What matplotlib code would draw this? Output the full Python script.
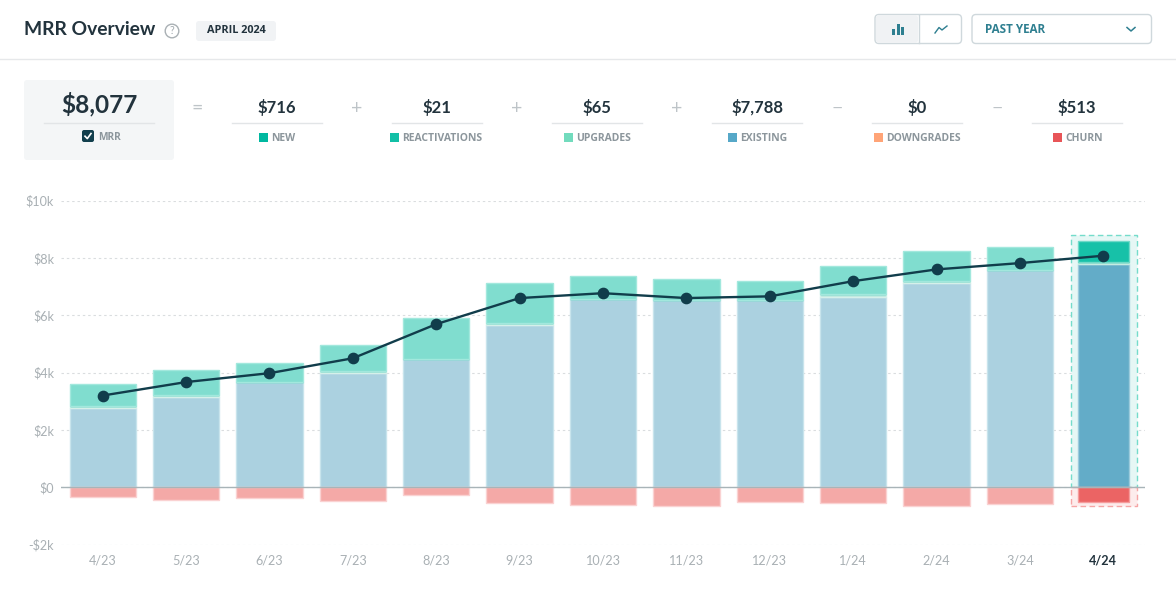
import matplotlib
matplotlib.use("Agg")
import matplotlib.pyplot as plt
from matplotlib.patches import Rectangle, FancyBboxPatch, Circle

months = ["4/23","5/23","6/23","7/23","8/23","9/23","10/23","11/23","12/23","1/24","2/24","3/24","4/24"]
existing = [2770,3150,3680,3990,4470,5660,6570,6530,6530,6630,7120,7570,7788]
upgrades = [60,70,0,70,0,70,0,0,0,110,70,0,65]
reactivations = [0,0,0,0,0,0,0,0,0,0,0,0,21]
new = [760,870,640,920,1430,1410,810,720,650,990,1060,820,716]
churn = [-350,-450,-370,-470,-270,-550,-620,-660,-520,-550,-650,-580,-513]
mrr = [3200,3670,3980,4500,5690,6600,6770,6600,6660,7190,7600,7820,8077]
yticks = [-2000,0,2000,4000,6000,8000,10000]
ylabels = ["-$2k","$0","$2k","$4k","$6k","$8k","$10k"]
summary_values = ["$716","$21","$65","$7,788","$0","$513"]
summary_labels = ["NEW","REACTIVATIONS","UPGRADES","EXISTING","DOWNGRADES","CHURN"]
summary_colors = ["#00B8A0","#12BFA6","#72DBBD","#56A8C8","#FFA477","#E85558"]
summary_ops = ["=","+","+","+","\u2212","\u2212"]

DARK = "#22333D"
GREY = "#8C969C"
plt.rcParams["font.family"] = ["Lato", "DejaVu Sans"]
fig = plt.figure(figsize=(11.76,5.99), dpi=100, facecolor="white")
W,H = 1176,599

# ---- chart
ax = fig.add_axes([61/W, 1-544.6/H, 1084/W, 344/H])
ax.set_xlim(-0.5,12.5); ax.set_ylim(-2000,10000)
for s in ax.spines.values(): s.set_visible(False)
ax.set_yticks(yticks); ax.set_yticklabels(ylabels, color="#A9B0B4", fontsize=9.1)
ax.set_xticks(range(len(months))); ax.set_xticklabels(months, color="#A9B0B4", fontsize=9.1)
ax.get_xticklabels()[-1].set_color(DARK); ax.get_xticklabels()[-1].set_fontweight("bold")
ax.tick_params(axis="y", length=0, pad=5)
ax.tick_params(axis="x", length=0, pad=7)
ax.yaxis.grid(True, color="#DADDDF", ls=(0,(2.2,2.6)), lw=0.8); ax.set_axisbelow(True)

n = len(months); last = n-1
wid = [0.795]*last + [0.61]
xs = list(range(n))
def colors(light, strong): return [light]*last + [strong]
ax.add_patch(Rectangle((last-0.39,0), 0.8, 8800, fc="#E6F7F5", ec="#74DCCB", ls=(0,(4,2.5)), lw=1, zorder=1.2))
ax.add_patch(Rectangle((last-0.39,-650), 0.8, 650, fc="#FDECEC", ec="#F6A5A5", ls=(0,(4,2.5)), lw=1, zorder=1.2))
b = [0]*n
kw = dict(width=wid, lw=1, zorder=2)
ax.bar(xs, existing, bottom=b, color=colors("#ABD1E0","#63ACC8"), edgecolor=colors("#C8E4EC","#9CCBDC"), **kw)
b = existing
ax.bar(xs, upgrades, bottom=b, color=colors("#BDE8E0","#B5E6DA"), edgecolor=colors("#D5F0EA","#C5ECE2"), **kw)
b = [p+q for p,q in zip(b,upgrades)]
ax.bar(xs, reactivations, bottom=b, color="#12BFA6", edgecolor="#12BFA6", **kw)
b = [p+q for p,q in zip(b,reactivations)]
ax.bar(xs, new, bottom=b, color=colors("#80DDCF","#17C1A8"), edgecolor=colors("#A2E8DD","#70D9C8"), **kw)
ax.bar(xs, churn, color=colors("#F4A9A7","#EB6464"), edgecolor=colors("#FAD2D2","#F59C9C"), **kw)
ax.axhline(0, color="#A8B4B8", lw=1, zorder=3)
ax.plot(xs, mrr, color="#113D4B", lw=1.7, marker="o", ms=7.4, zorder=4)

# ---- interface chrome, in pixel coordinates
ui = fig.add_axes([0,0,1,1], zorder=-1); ui.set_xlim(0,W); ui.set_ylim(H,0); ui.axis("off")
def rbox(x0,y0,x1,y1,fc,ec="none",r=3,lw=1):
    ui.add_patch(FancyBboxPatch((x0+r,y0+r),x1-x0-2*r,y1-y0-2*r,boxstyle=f"round,pad={r},rounding_size={r}",fc=fc,ec=ec,lw=lw))
def txt(x,y,s,size,color,weight="normal",ha="center",family=None):
    ui.text(x,y,s,fontsize=size,color=color,fontweight=weight,ha=ha,va="center",family=family or ["Lato","DejaVu Sans"])
ui.plot([0,W],[59.3,59.3],color="#E6E8EA",lw=1)
txt(24,29.5,"MRR Overview",13.9,DARK,"bold",ha="left",family="Lato")
ui.add_patch(Circle((172,31),6.8,fc="white",ec="#A9B0B4",lw=1))
txt(172,31,"?",7.6,"#A0A8AD")
rbox(196,21,276,41,"#F1F3F5")
txt(236,30.5,"APRIL 2024",7.8,DARK,"bold",family="Open Sans")

rbox(875,14.5,961.5,43.5,"white","#CFD8DC",r=4)
rbox(876,15,918,43,"#F0F2F4",r=3)
ui.plot([918.5,918.5],[15,43],color="#CFD8DC",lw=1)
for x,h in [(893.5,5.5),(898,10.5),(902.5,8)]:
    ui.add_patch(Rectangle((x-1.5,34.5-h),3,h,fc="#2E7F90",ec="none"))
ui.plot([935,939,942,947],[33,27.5,30,26],color="#2E7F90",lw=1)
rbox(972,14.5,1151.5,43.5,"white","#CFD8DC",r=4)
txt(985,29.5,"PAST YEAR",8.4,"#2E7F90","bold",ha="left",family="Open Sans")
ui.plot([1127,1131,1135],[27.5,31,27.5],color="#2E7F90",lw=1.1)

rbox(24,80,174,160,"#F4F6F7")
txt(99,104,"$8,077",17.6,DARK,"bold",family="Lato")
ui.plot([44,154],[122.5,122.5],color="#E2E5E7",lw=1)
rbox(82,130,94,142,"#123F4D",r=2)
ui.plot([85,87.3,91],[136.2,138.6,133.5],color="white",lw=1.2)
txt(98,137,"MRR",7.3,GREY,"bold",ha="left",family="Open Sans")

cols = [277,437,597,757,917,1077]
sq = [259,390,564,728,874,1053]
for c,s,v,l,col,op in zip(cols,sq,summary_values,summary_labels,summary_colors,summary_ops):
    txt(c,108,v,12,DARK,"bold",family="Lato")
    ui.plot([c-45,c+45],[122.5,122.5],color="#E2E5E7",lw=1)
    ui.add_patch(Rectangle((s,133),9,9,fc=col,ec="none"))
    txt(s+12,138.8,l,7.5,GREY,"bold",ha="left",family="Open Sans")
    txt(c-80,108,op,14,"#BEC4C8")

fig.savefig("out.png", dpi=100, facecolor="white")
